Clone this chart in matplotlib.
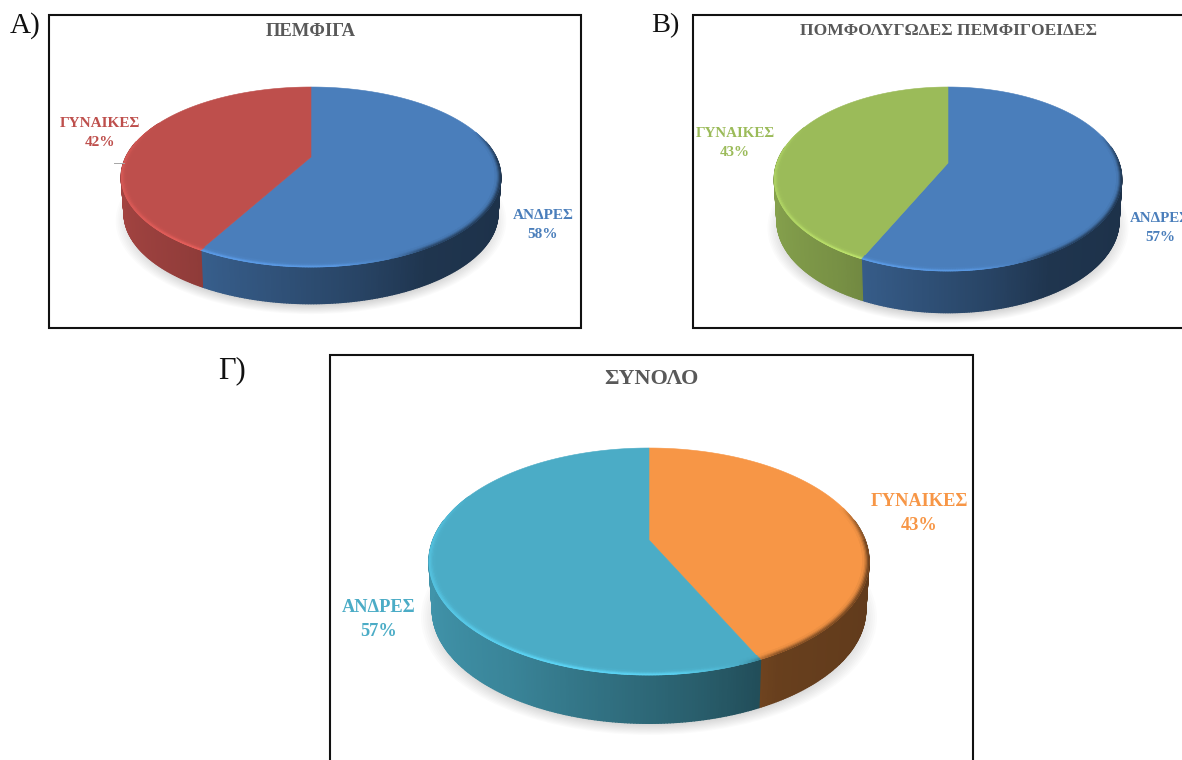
import numpy as np
import matplotlib
matplotlib.use("Agg")
import matplotlib.pyplot as plt
from matplotlib.collections import PolyCollection
from matplotlib.patches import Ellipse, Rectangle
from matplotlib.colors import to_rgb

# Share of each sex per group, in percent
men_share = [58, 57, 57]
women_share = [42, 43, 43]
men_label = "ΑΝΔΡΕΣ"
women_label = "ΓΥΝΑΙΚΕΣ"
titles = ["ΠΕΜΦΙΓΑ", "ΠΟΜΦΟΛΥΓΩΔΕΣ ΠΕΜΦΙΓΟΕΙΔΕΣ", "ΣΥΝΟΛΟ"]
panel_letters = ["Α)", "Β)", "Γ)"]

SERIF = "Liberation Serif"
TITLE_GREY = "#595959"

# Layout in pixels; y grows downward
panels = [
    dict(frame=(49, 15, 581, 328), cx=311, apex=157, top=87, bottom=267, half_w=185,
         depth=38, men="#4a7ebb", women="#be4f4c", men_first=True,
         title_xy=(311, 32), title_size=13.4,
         letter_xy=(10, 26), letter_size=21,
         men_xy=(543, 225), women_xy=(100, 133), label_size=11, line_gap=19),
    dict(frame=(693, 15, 1200, 328), cx=948, apex=163, top=87, bottom=271, half_w=171,
         depth=43, men="#4a7ebb", women="#9bbb59", men_first=True,
         title_xy=(949, 31), title_size=12.6,
         letter_xy=(651, 26), letter_size=20.5,
         men_xy=(1160, 228), women_xy=(735, 143), label_size=10.8, line_gap=19),
    dict(frame=(330, 355, 973, 775), cx=649, apex=540, top=448, bottom=675, half_w=216,
         depth=50, men="#4bacc6", women="#f79646", men_first=False,
         title_xy=(651, 379), title_size=16,
         letter_xy=(218, 371), letter_size=22,
         men_xy=(379, 619), women_xy=(919, 514), label_size=13.2, line_gap=24),
]


def projection(p):
    """Perspective map of the unit disc onto the tilted top face."""
    up = p["apex"] - p["top"]
    down = p["bottom"] - p["apex"]
    a = 2 / (1 / up + 1 / down)
    k = a / up - 1

    def project(x, y):
        w = 1 + k * y
        return p["half_w"] * x / w, a * y / w

    return project


def shade_factor(u):
    """Brightness of the side wall across its width."""
    return np.interp(u, [-1, -0.55, 0.2, 0.5, 1], [0.86, 0.77, 0.54, 0.42, 0.39])


def rim_light(u, lower):
    """Lighten the lower-left bevel, darken the right edge of the top face."""
    if lower:
        return np.interp(u, [-1, -0.7, -0.4, 0.1, 0.35, 0.5, 1],
                         [0.12, 0.2, 0.26, 0.24, 0.0, -0.45, -0.55])
    return np.interp(u, [0.95, 1], [0, -0.45]) + np.interp(u, [-1, -0.9], [0.12, 0])


def blend(colour, amount):
    base = np.array(to_rgb(colour))
    return tuple(np.clip(base * (1 + amount), 0, 1))


fig = plt.figure(figsize=(11.82, 7.6), dpi=100)
ax = fig.add_axes([0, 0, 1, 1])
ax.set_xlim(0, 1182)
ax.set_ylim(760, 0)
ax.axis("off")


def draw_pie(p, men, women):
    project = projection(p)
    total = men + women
    first_col, second_col = (p["men"], p["women"]) if p["men_first"] else (p["women"], p["men"])
    first = men if p["men_first"] else women
    seam = 2 * np.pi * first / total

    def rim(theta, radius=1.0):
        x, y = project(radius * np.sin(theta), radius * np.cos(theta))
        return p["cx"] + x, p["apex"] - y

    def base_rim(theta):
        x, y = project(np.sin(theta), np.cos(theta))
        return p["cx"] + 0.985 * x, p["apex"] - y + p["depth"] - 0.015 * (p["bottom"] - p["top"]) / 2

    # Soft drop shadow under the disc
    cy = (p["top"] + p["bottom"]) / 2 + p["depth"] + 6
    rx = p["half_w"] * 1.02
    ry = (p["bottom"] - p["top"]) / 2
    for s in np.linspace(1.035, 0.93, 12):
        ax.add_patch(Ellipse((p["cx"], cy), 2 * rx * s, 2 * ry * s, fc="#000000",
                             ec="none", alpha=0.016, zorder=1))

    # Side wall, one thin facet per step around the front of the disc
    thetas = np.linspace(0, 2 * np.pi, 541)
    facets, colours = [], []
    for t0, t1 in zip(thetas[:-1], thetas[1:]):
        tm = (t0 + t1) / 2
        if np.cos(tm) > 0.18:
            continue
        x0, y0 = rim(t0)
        x1, y1 = rim(t1)
        bx0, by0 = base_rim(t0)
        bx1, by1 = base_rim(t1)
        col = first_col if tm < seam else second_col
        facets.append([(x0, y0), (x1, y1), (bx1, by1), (bx0, by0)])
        colours.append(np.array(to_rgb(col)) * shade_factor(np.sin(tm)))
    ax.add_collection(PolyCollection(facets, facecolors=colours, edgecolors=colours,
                                     linewidths=1.0, zorder=2))

    # Top face: two wedges spanning the shares
    for start, stop, col in [(0, seam, first_col), (seam, 2 * np.pi, second_col)]:
        arc = np.linspace(start, stop, 240)
        xs, ys = rim(arc)
        ax.fill(np.r_[p["cx"], xs], np.r_[p["apex"], ys], fc=col, ec=col, lw=0.4, zorder=3)

    # Bevel along the rim of the top face
    radii = np.linspace(1.0, 0.972, 6)
    facets, colours = [], []
    for r_out, r_in, fade in zip(radii[:-1], radii[1:], [1.0, 0.8, 0.5, 0.25, 0.08]):
        for t0, t1 in zip(thetas[:-1], thetas[1:]):
            tm = (t0 + t1) / 2
            col = first_col if tm < seam else second_col
            amount = rim_light(np.sin(tm), np.cos(tm) < 0) * fade
            if abs(amount) < 0.004:
                continue
            x0, y0 = rim(t0, r_out)
            x1, y1 = rim(t1, r_out)
            x2, y2 = rim(t1, r_in)
            x3, y3 = rim(t0, r_in)
            facets.append([(x0, y0), (x1, y1), (x2, y2), (x3, y3)])
            colours.append(blend(col, amount))
    ax.add_collection(PolyCollection(facets, facecolors=colours, edgecolors=colours,
                                     linewidths=0.5, zorder=4))


for p, title, letter, men, women in zip(panels, titles, panel_letters, men_share, women_share):
    x0, y0, x1, y1 = p["frame"]
    ax.add_patch(Rectangle((x0, y0), x1 - x0, y1 - y0, fc="white", ec="#111111", lw=1.5, zorder=0.5))
    draw_pie(p, men, women)
    ax.text(*p["title_xy"], title, family=SERIF, weight="bold", color=TITLE_GREY,
            size=p["title_size"], ha="center", va="center", zorder=6)
    ax.text(*p["letter_xy"], letter, family=SERIF, color="#111111",
            size=p["letter_size"], ha="left", va="center", zorder=6)
    for name, share, (lx, ly), col in [(men_label, men, p["men_xy"], p["men"]),
                                       (women_label, women, p["women_xy"], p["women"])]:
        ax.text(lx, ly - p["line_gap"] / 2, name, family=SERIF, weight="bold", color=col,
                size=p["label_size"], ha="center", va="center", zorder=6)
        ax.text(lx, ly + p["line_gap"] / 2, f"{share}%", family=SERIF, weight="bold", color=col,
                size=p["label_size"], ha="center", va="center", zorder=6)

# Short leader from the women's label in the first panel
ax.plot([114, 124], [163, 163], color="#a6a6a6", lw=0.7, zorder=5)

fig.savefig("out.png", dpi=100, facecolor="white")
